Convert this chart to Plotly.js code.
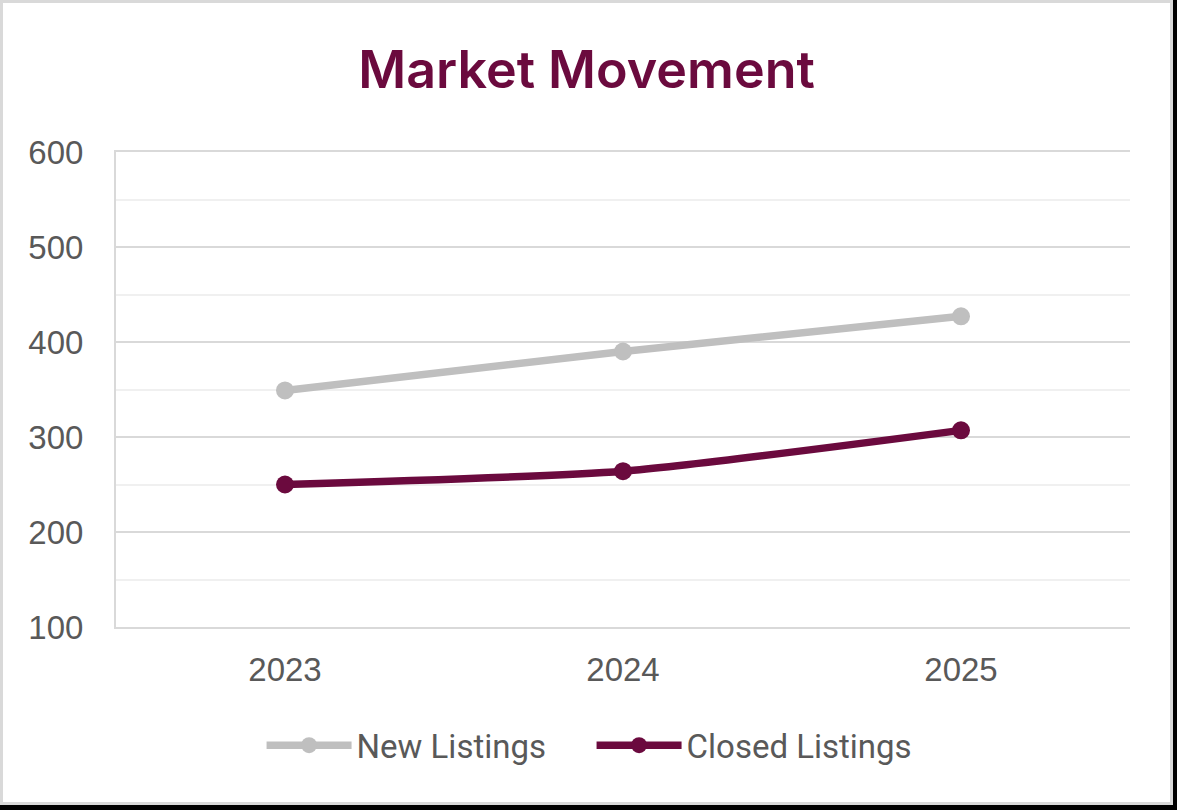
<!DOCTYPE html>
<html>
<head>
<meta charset="utf-8">
<script src="https://cdn.plot.ly/plotly-3.0.1.min.js"></script>
<style>
  html, body { margin: 0; padding: 0; background: #000; width: 1177px; height: 810px; overflow: hidden; }
  #frame { position: absolute; left: 0; top: 0; width: 1173px; height: 805px; background: #d9d9d9; }
  #chart { position: absolute; left: 3px; top: 3px; width: 1167px; height: 799px; background: #fff; }
</style>
</head>
<body>
<div id="frame"><div id="chart"></div></div>
<script>
const years = ['2023', '2024', '2025'];
const newListings = [349, 390, 427];
const closedListings = [250, 264, 307];
const seriesNames = ['New Listings', 'Closed Listings'];

const gray = '#bfbfbf';
const maroon = '#6b0a3e';
const textGray = '#595959';

const traces = [
  {
    x: years, y: newListings, name: seriesNames[0], type: 'scatter', mode: 'lines+markers',
    line: { color: gray, width: 7.5, shape: 'spline', smoothing: 0.6 },
    marker: { color: gray, size: 18 }
  },
  {
    x: years, y: closedListings, name: seriesNames[1], type: 'scatter', mode: 'lines+markers',
    line: { color: maroon, width: 7.5, shape: 'spline', smoothing: 0.6 },
    marker: { color: maroon, size: 18 }
  }
];

const layout = {
  width: 1167, height: 799,
  paper_bgcolor: '#ffffff', plot_bgcolor: '#ffffff',
  margin: { l: 113, r: 40, t: 149, b: 175 },
  title: {
    text: 'Market Movement',
    font: { family: 'Inter, "Noto Sans", sans-serif', size: 52, color: maroon, weight: 600 },
    x: 0.5, xanchor: 'center', xref: 'container', y: 0.917, yanchor: 'middle'
  },
  xaxis: {
    type: 'category', range: [-0.5, 2.5],
    showgrid: false, zeroline: false,
    showline: true, mirror: true, linecolor: '#d9d9d9', linewidth: 2,
    ticks: '', ticklabelstandoff: 12,
    tickfont: { family: '"Liberation Sans", Arial, sans-serif', size: 33, color: textGray }
  },
  yaxis: {
    range: [100, 600], dtick: 100, tick0: 100,
    showgrid: true, gridcolor: '#d9d9d9', gridwidth: 2,
    minor: { dtick: 50, showgrid: true, gridcolor: '#f0f0f0', gridwidth: 2 },
    showline: true, linecolor: '#d9d9d9', linewidth: 2,
    zeroline: false, ticks: '', ticklabelstandoff: 24,
    tickfont: { family: '"Liberation Sans", Arial, sans-serif', size: 33, color: textGray }
  },
  showlegend: true,
  legend: {
    orientation: 'h', x: 0.469, xanchor: 'center', y: -0.19, yanchor: 'top',
    font: { family: 'Roboto, sans-serif', size: 33, color: textGray },
    itemwidth: 85, entrywidth: 230, entrywidthmode: 'pixels',
    tracegroupgap: 0, traceorder: 'normal'
  }
};

Plotly.newPlot('chart', traces, layout, { displayModeBar: false, staticPlot: true });
</script>
</body>
</html>
